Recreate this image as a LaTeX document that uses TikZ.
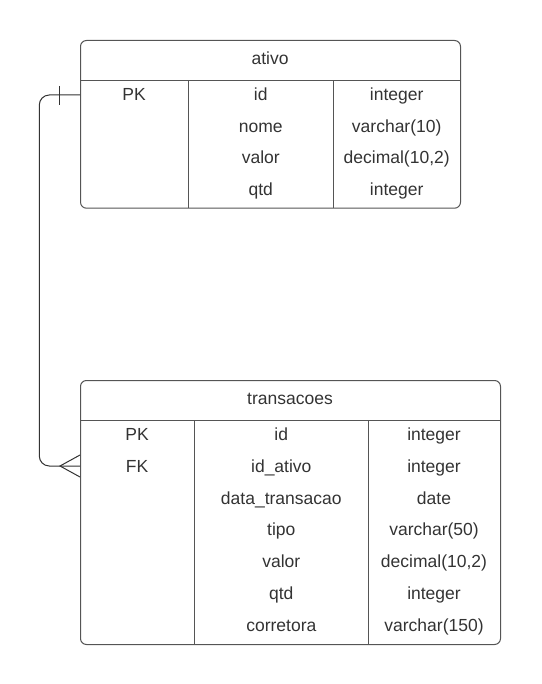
\documentclass[tikz,border=0pt]{standalone}
\usepackage{fontspec}
\setmainfont{Liberation Sans}
\definecolor{ink}{HTML}{333333}
\definecolor{edge}{HTML}{555555}
\tikzset{
  tbl/.style={draw=edge, line width=1pt, rounded corners=6pt, inner sep=0pt, minimum width=#1},
  cell/.style={text=ink, font=\fontsize{17.5}{20}\selectfont, inner sep=0pt, anchor=base},
  grid/.style={draw=edge, line width=1pt},
  rel/.style={draw=ink, line width=1pt}
}
\begin{document}
\begin{tikzpicture}[x=1pt,y=-1pt]
\useasboundingbox (0,0) rectangle (541,684);
% table ativo
\node[tbl=380pt, minimum height=167.7pt, anchor=north west] (ta) at (80,40) {};
\draw[grid] (80,80.7) -- (460,80.7);
\draw[grid] (188.3,80.7) -- (188.3,207.7);
\draw[grid] (333.3,80.7) -- (333.3,207.7);
\node[cell] (ta-h) at (270,65) {ativo};
\node[cell] (ta-k1) at (134,100.5) {PK};
\node[cell] (ta-n1) at (260.8,100.5) {id};
\node[cell] (ta-t1) at (396.7,100.5) {integer};
\node[cell] (ta-n2) at (260.8,132.2) {nome};
\node[cell] (ta-t2) at (396.7,132.2) {varchar(10)};
\node[cell] (ta-n3) at (260.8,163.8) {valor};
\node[cell] (ta-t3) at (396.7,163.8) {decimal(10,2)};
\node[cell] (ta-n4) at (260.8,195.5) {qtd};
\node[cell] (ta-t4) at (396.7,195.5) {integer};
% table transacoes
\node[tbl=420pt, minimum height=264pt, anchor=north west] (tb) at (80,380) {};
\draw[grid] (80,420.7) -- (500,420.7);
\draw[grid] (194.3,420.7) -- (194.3,644);
\draw[grid] (368.3,420.7) -- (368.3,644);
\node[cell] (tb-h) at (290,404) {transacoes};
\node[cell] (tb-k1) at (137,440.5) {PK};
\node[cell] (tb-n1) at (281.3,440.5) {id};
\node[cell] (tb-t1) at (434,440.5) {integer};
\node[cell] (tb-k2) at (137,472.3) {FK};
\node[cell] (tb-n2) at (281.3,472.3) {id\_ativo};
\node[cell] (tb-t2) at (434,472.3) {integer};
\node[cell] (tb-n3) at (281.3,504.1) {data\_transacao};
\node[cell] (tb-t3) at (434,504.1) {date};
\node[cell] (tb-n4) at (281.3,535.9) {tipo};
\node[cell] (tb-t4) at (434,535.9) {varchar(50)};
\node[cell] (tb-n5) at (281.3,567.7) {valor};
\node[cell] (tb-t5) at (434,567.7) {decimal(10,2)};
\node[cell] (tb-n6) at (281.3,599.5) {qtd};
\node[cell] (tb-t6) at (434,599.5) {integer};
\node[cell] (tb-n7) at (281.3,631.3) {corretora};
\node[cell] (tb-t7) at (434,631.3) {varchar(150)};
% relationship
\coordinate (a1) at (80,95);
\coordinate (b1) at (80,466);
\coordinate (bend) at (39.3,466);
\coordinate (foot) at (60,466);
\draw[rel, rounded corners=10pt] (a1) -| (bend) -- (b1);
\draw[rel] (59.5,86) -- (59.5,105);
\draw[rel] (80,455) -- (foot) -- (80,477);
\end{tikzpicture}
\end{document}
